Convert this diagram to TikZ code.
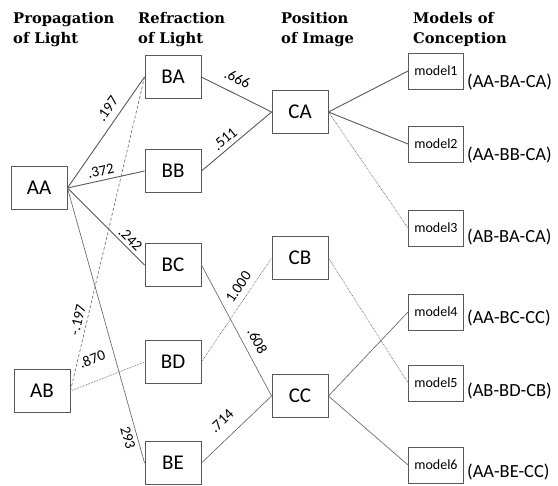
\documentclass[tikz,border=0pt]{standalone}
\usepackage{fontspec}
\newfontfamily\boxfont{Carlito}
\newfontfamily\headfont{DejaVu Serif}
\tikzset{
  box/.style={draw=black!65, line width=0.9pt, minimum width=56pt, minimum height=43pt, inner sep=0pt, font=\boxfont\fontsize{21}{23}\selectfont},
  modelbox/.style={box, minimum width=55pt, minimum height=36pt, font=\boxfont\fontsize{14}{16}\selectfont},
  head/.style={anchor=north west, align=left, inner sep=0pt, font=\headfont\bfseries\fontsize{14.7}{20}\selectfont},
  link/.style={draw=black!65, line width=0.9pt},
  thinlink/.style={draw=black!60, line width=0.65pt},
  weak/.style={draw=black!60, line width=0.7pt, densely dotted},
  dashlink/.style={draw=black!60, line width=0.6pt, densely dashed},
  wt/.style={sloped, font=\boxfont\fontsize{15}{16}\selectfont, inner sep=2pt},
  tag/.style={anchor=west, inner sep=0pt, font=\boxfont\fontsize{18.5}{20}\selectfont}
}
\begin{document}
\begin{tikzpicture}[x=1pt,y=-1pt]
	\useasboundingbox (0,0) rectangle (558,486);
	% column titles
	\node[head] (h1) at (13,12) {Propagation\\of Light};
	\node[head] (h2) at (138,12) {Refraction\\of Light};
	\node[head] (h3) at (281,12) {Position\\of Image};
	\node[head] (h4) at (413,12) {Models of\\Conception};
	% boxes
	\node[box] (AA) at (39,188) {AA};
	\node[box] (AB) at (42,391) {AB};
	\node[box] (BA) at (173,77) {BA};
	\node[box] (BB) at (173,171) {BB};
	\node[box] (BC) at (173,265) {BC};
	\node[box] (BD) at (173,362) {BD};
	\node[box] (BE) at (173,463) {BE};
	\node[box] (CA) at (300,112) {CA};
	\node[box] (CB) at (300,258) {CB};
	\node[box] (CC) at (300,396) {CC};
	\node[modelbox] (m1) at (436,71) {model1};
	\node[modelbox] (m2) at (436,144) {model2};
	\node[modelbox] (m3) at (436,228) {model3};
	\node[modelbox] (m4) at (436,312) {model4};
	\node[modelbox] (m5) at (436,383) {model5};
	\node[modelbox] (m6) at (436,465) {model6};
	\node[tag] (t1) at ([xshift=3pt,yshift=-11pt]m1.east) {(AA-BA-CA)};
	\node[tag] (t2) at ([xshift=3pt,yshift=-11pt]m2.east) {(AA-BB-CA)};
	\node[tag] (t3) at ([xshift=3pt,yshift=-9pt]m3.east) {(AB-BA-CA)};
	\node[tag] (t4) at ([xshift=3pt,yshift=-6pt]m4.east) {(AA-BC-CC)};
	\node[tag] (t5) at ([xshift=3pt,yshift=-8pt]m5.east) {(AB-BD-CB)};
	\node[tag] (t6) at ([xshift=3pt,yshift=-7pt]m6.east) {(AA-BE-CC)};
	% paths with weights
	\draw[link] (AA.east) -- node[wt,above=5pt,pos=0.65] {.197} (BA.west);
	\draw[link] (AA.east) -- node[wt,above=2pt,pos=0.46] {.372} (BB.west);
	\draw[link] (AA.east) -- node[wt,above=1pt,pos=0.74] {.242} (BC.west);
	\draw[thinlink] (AA.east) -- node[wt,below=2pt,pos=0.9] {293} (BE.west);
	\draw[dashlink] (AB.east) -- node[wt,above=2pt,pos=0.22] {-.197} (BA.west);
	\draw[weak] (AB.east) -- node[wt,above=14pt,pos=0.4] {.870} (BD.west);
	\draw[link] (BA.east) -- node[wt,above=7pt,pos=0.42] {.666} (CA.west);
	\draw[link] (BB.east) -- node[wt,above=2pt,pos=0.42] {.511} (CA.west);
	\draw[thinlink] (BC.east) -- node[wt,above=6pt,pos=0.63] {.608} (CC.west);
	\draw[weak] (BD.east) -- node[wt,above=4pt,pos=0.66] {1.000} (CB.west);
	\draw[thinlink] (BE.east) -- node[wt,above=9pt,pos=0.45] {.714} (CC.west);
	% to the models
	\draw[link] (CA.east) -- (m1.west);
	\draw[link] (CA.east) -- (m2.west);
	\draw[weak] (CA.east) -- (m3.west);
	\draw[weak] (CB.east) -- (m5.west);
	\draw[thinlink] (CC.east) -- (m4.west);
	\draw[thinlink] (CC.east) -- (m6.west);
\end{tikzpicture}
\end{document}
